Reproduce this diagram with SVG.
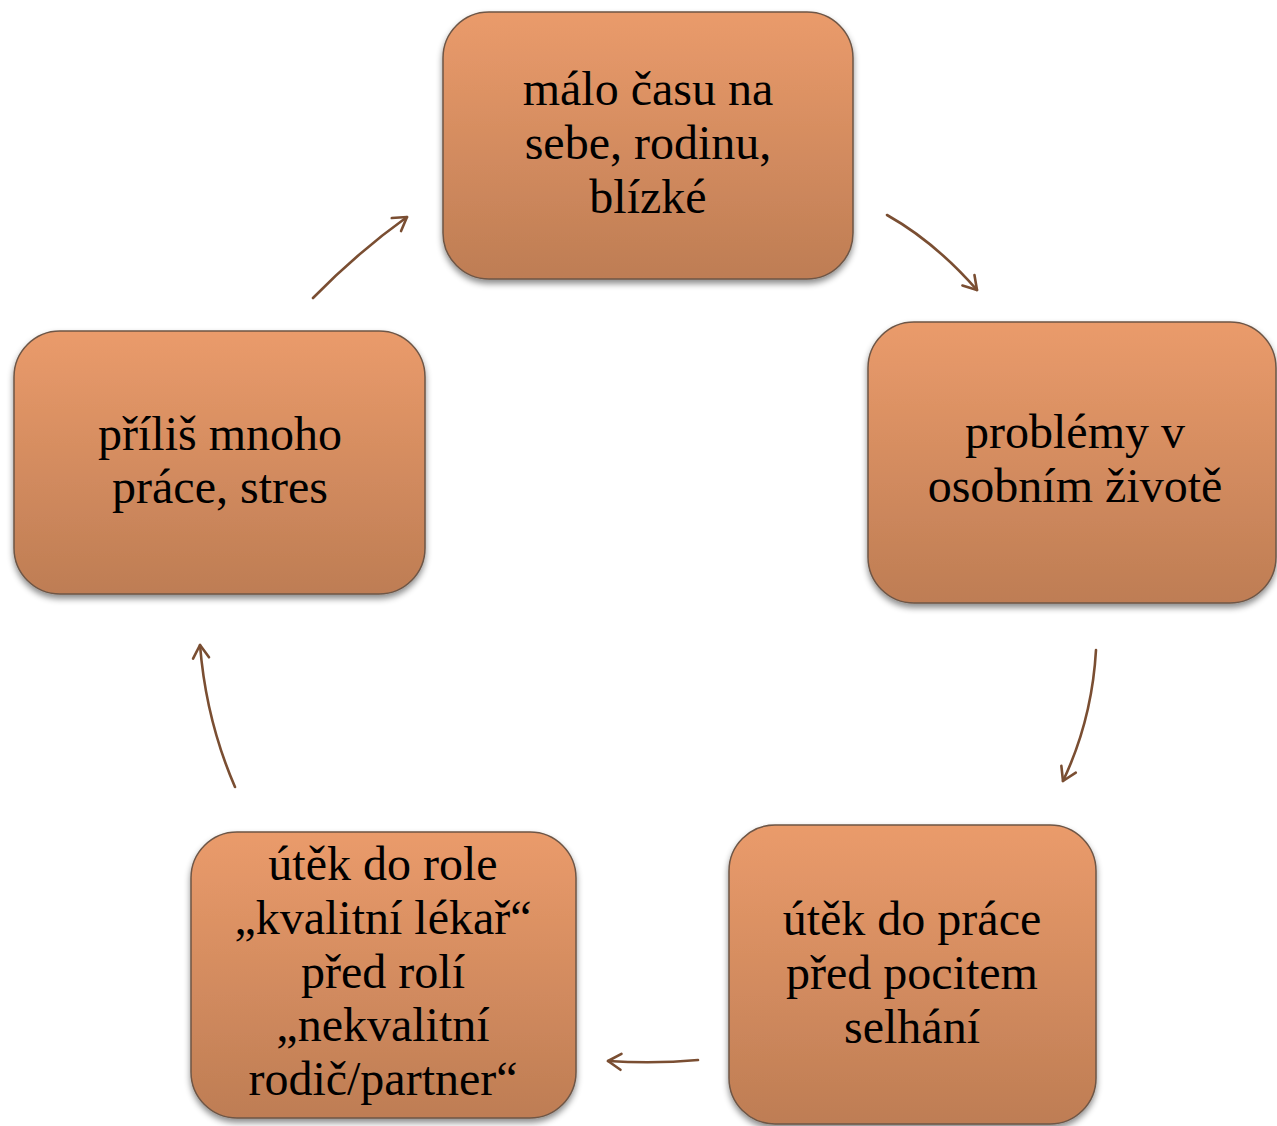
<svg xmlns="http://www.w3.org/2000/svg" width="1277" height="1126" viewBox="0 0 1277 1126">
<style>
.box{fill:url(#g);stroke:#6e5646;stroke-width:1.5;filter:url(#sh)}
.t{font-family:"Liberation Serif","Times New Roman",serif;font-size:48px;fill:#000;text-anchor:middle}
.c{fill:none;stroke:#7a4e32;stroke-width:2.6;stroke-linecap:round;marker-end:url(#ah)}
</style>
<defs>
<linearGradient id="g" x1="0" y1="0" x2="0" y2="1">
<stop offset="0" stop-color="#EA9B6B"/>
<stop offset="1" stop-color="#BE7D54"/>
</linearGradient>
<filter id="sh" x="-10%" y="-10%" width="120%" height="125%">
<feDropShadow dx="0" dy="4" stdDeviation="3" flood-color="#000" flood-opacity="0.45"/>
</filter>
<marker id="ah" viewBox="-15 -10 17 20" markerWidth="17" markerHeight="20" refX="0" refY="0" orient="auto" markerUnits="userSpaceOnUse">
<path d="M-13,-8 L0,0 L-13,8" fill="none" stroke="#7a4e32" stroke-width="2.6" stroke-linecap="round" stroke-linejoin="round"/>
</marker>
</defs>
<g id="connectors">
<path class="c" d="M313,298 Q358,252 407,217"/>
<path class="c" d="M887,215 Q935,242 977,290"/>
<path class="c" d="M1096,650 Q1092,720 1063,781"/>
<path class="c" d="M698,1060 Q655,1064 608,1061"/>
<path class="c" d="M235,787 Q206,720 200,645"/>
</g>
<g id="n1">
<rect class="box" x="443" y="12" width="410" height="267" rx="46"/>
<text class="t" x="648" y="105">málo času na</text>
<text class="t" x="648" y="159">sebe, rodinu,</text>
<text class="t" x="648" y="213">blízké</text>
</g>
<g id="n2">
<rect class="box" x="868" y="322" width="408" height="281" rx="46"/>
<text class="t" x="1075" y="448">problémy v</text>
<text class="t" x="1075" y="502">osobním životě</text>
</g>
<g id="n3">
<rect class="box" x="729" y="825" width="367" height="299" rx="46"/>
<text class="t" x="912" y="935">útěk do práce</text>
<text class="t" x="912" y="989">před pocitem</text>
<text class="t" x="912" y="1043">selhání</text>
</g>
<g id="n4">
<rect class="box" x="191" y="832" width="385" height="286" rx="46"/>
<text class="t" x="383" y="880">útěk do role</text>
<text class="t" x="383" y="934">„kvalitní lékař“</text>
<text class="t" x="383" y="988">před rolí</text>
<text class="t" x="383" y="1041">„nekvalitní</text>
<text class="t" x="383" y="1095">rodič/partner“</text>
</g>
<g id="n5">
<rect class="box" x="14" y="331" width="411" height="263" rx="46"/>
<text class="t" x="220" y="450">příliš mnoho</text>
<text class="t" x="220" y="503">práce, stres</text>
</g>
</svg>
